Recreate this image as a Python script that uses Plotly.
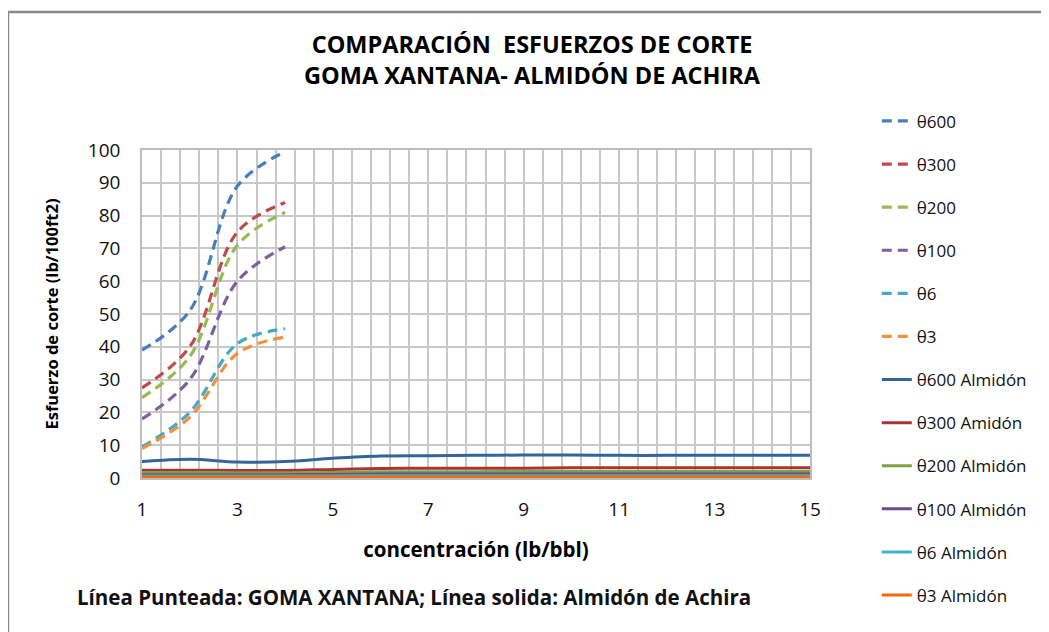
import plotly.graph_objects as go

# --- data ---
conc_goma = [1, 2, 3, 4]
goma_600 = [39, 51, 89, 99.5]
goma_300 = [27.5, 40, 75, 84]
goma_200 = [24.5, 37, 71, 81]
goma_100 = [18, 30, 60, 70.5]
goma_6 = [9.5, 20, 41, 45.5]
goma_3 = [9, 18.5, 38, 43]

conc_almidon = list(range(1, 16))
alm_600 = [5.0, 5.7, 4.9, 5.0, 6.0, 6.7, 6.8, 6.9, 7.0, 7.0, 6.9, 6.9, 6.9, 6.9, 6.9]
alm_300 = [2.4, 2.4, 2.3, 2.3, 2.6, 2.9, 3.0, 3.0, 3.0, 3.1, 3.1, 3.1, 3.1, 3.1, 3.1]
alm_200 = [1.7, 1.7, 1.6, 1.6, 1.7, 1.9, 1.9, 1.9, 2.0, 2.0, 2.0, 2.0, 2.0, 2.0, 2.0]
alm_100 = [1.0, 1.0, 1.0, 1.0, 1.1, 1.2, 1.2, 1.2, 1.2, 1.2, 1.2, 1.2, 1.2, 1.2, 1.2]
alm_6 = [0.6, 0.6, 0.6, 0.6, 0.6, 0.7, 0.7, 0.7, 0.7, 0.7, 0.7, 0.7, 0.7, 0.7, 0.7]
alm_3 = [0.3, 0.3, 0.3, 0.3, 0.3, 0.3, 0.3, 0.3, 0.3, 0.3, 0.3, 0.3, 0.3, 0.3, 0.3]

FONT = "Open Sans"

fig = go.Figure()

dashed = [
    ("θ600", goma_600, "#4A7EBB"),
    ("θ300", goma_300, "#BE4B48"),
    ("θ200", goma_200, "#98B954"),
    ("θ100", goma_100, "#7D60A0"),
    ("θ6", goma_6, "#46AAC5"),
    ("θ3", goma_3, "#F28F40"),
]
solid = [
    ("θ600 Almidón", alm_600, "#35639C"),
    ("θ300 Amidón", alm_300, "#A93431"),
    ("θ200 Almidón", alm_200, "#7FA043"),
    ("θ100 Almidón", alm_100, "#6A4F8C"),
    ("θ6 Almidón", alm_6, "#3CB4D0"),
    ("θ3 Almidón", alm_3, "#F06A10"),
]

for name, vals, col in dashed:
    fig.add_trace(go.Scatter(
        x=conc_goma, y=vals, name=name, mode="lines", legendgroup=name,
        line=dict(color=col, width=3.2, dash="10px,6px", shape="spline", smoothing=1),
    ))
for name, vals, col in solid:
    fig.add_trace(go.Scatter(
        x=conc_almidon, y=vals, name=name, mode="lines", legendgroup=name,
        line=dict(color=col, width=3, shape="spline", smoothing=1),
    ))

# page has an 8px body margin, so margins are shifted to compensate
fig.update_layout(
    width=1049, height=632,
    margin=dict(l=134, r=247, t=142, b=162, autoexpand=False),
    paper_bgcolor="white", plot_bgcolor="white",
    font=dict(family=FONT, color="#000000"),
    legend=dict(
        x=1.1, xanchor="left", y=1.142, yanchor="top",
        font=dict(size=17, family=FONT, color="#111111"),
        tracegroupgap=18, bgcolor="rgba(0,0,0,0)", maxheight=600,
    ),
    showlegend=True,
)

fig.update_xaxes(
    range=[1, 15], tick0=1, dtick=2,
    showgrid=True, gridcolor="#c8c8c8", gridwidth=1.5,
    minor=dict(tick0=1, dtick=0.4, showgrid=True, gridcolor="#c8c8c8", gridwidth=1.5),
    showline=True, linecolor="#bdbdbd", linewidth=1.5, mirror=True,
    zeroline=False, ticks="", ticklabelstandoff=13,
    tickfont=dict(size=19, family=FONT, color="#111111"),
    title=dict(text="<b>concentración (lb/bbl)</b>", standoff=22,
               font=dict(size=20.5, family=FONT, color="#000000")),
)
fig.update_yaxes(
    range=[0, 100], tick0=0, dtick=10,
    showgrid=True, gridcolor="#c8c8c8", gridwidth=1.5,
    showline=True, linecolor="#bdbdbd", linewidth=1.5, mirror=True,
    zeroline=False, ticks="", ticklabelstandoff=16,
    tickfont=dict(size=19, family=FONT, color="#111111"),
    title=dict(text="<b>Esfuerzo de corte (lb/100ft2)</b>", standoff=25,
               font=dict(size=16.5, family=FONT, color="#000000")),
)

fig.add_annotation(
    text="<b>COMPARACIÓN  ESFUERZOS DE CORTE<br>GOMA XANTANA- ALMIDÓN DE ACHIRA</b>",
    xref="paper", yref="paper", x=0.5853, y=1.2744,
    xanchor="center", yanchor="middle", showarrow=False,
    font=dict(size=23.5, family=FONT, color="#000000"),
)
fig.add_annotation(
    text="<b>Línea Punteada: GOMA XANTANA; Línea solida: Almidón de Achira</b>",
    xref="paper", yref="paper", x=-0.1003, y=-0.3628,
    xanchor="left", yanchor="middle", showarrow=False,
    font=dict(size=20.5, family=FONT, color="#111111"),
)

# outer chart border (only top and left edges visible in the crop)
fig.add_shape(type="line", xref="paper", yref="paper",
              x0=-0.2006, x1=1.5, y0=1.4207, y1=1.4207,
              line=dict(color="#8a8a8a", width=2.5))
fig.add_shape(type="line", xref="paper", yref="paper",
              x0=-0.2006, x1=-0.2006, y0=1.4207, y1=-0.6,
              line=dict(color="#8a8a8a", width=2.5))

fig.write_html("out.html")
